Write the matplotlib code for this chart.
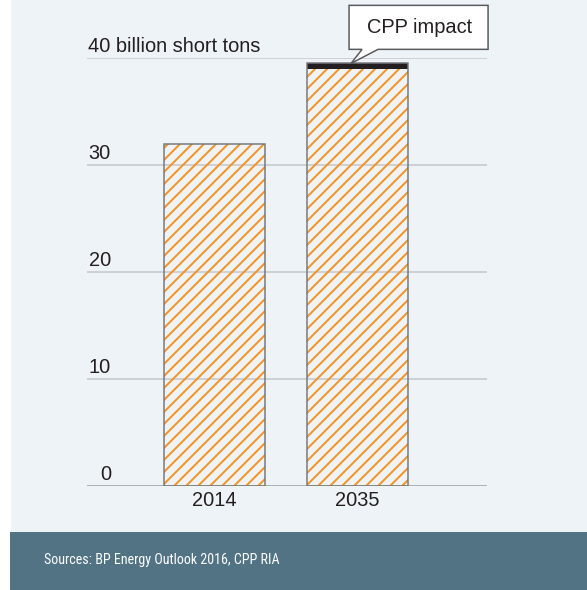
import matplotlib
matplotlib.use("Agg")
import matplotlib.pyplot as plt
from matplotlib.patches import Rectangle, Polygon
from matplotlib import font_manager
import matplotlib.transforms as mtransforms

# Data
years = ["2014", "2035"]
emissions = [32.0, 39.0]          # billion short tons
cpp_impact = [0.0, 0.5]           # extra slice on top of 2035
tick_values = [0, 10, 20, 30, 40]
tick_labels = ["0", "10", "20", "30", "40 billion short tons"]
callout_text = "CPP impact"
source_text = "Sources: BP Energy Outlook 2016, CPP RIA"

DPI = 72
W, H = 587, 590

plt.rcParams["font.family"] = ["Liberation Sans", "DejaVu Sans"]
plt.rcParams["hatch.linewidth"] = 2.0

# pick a narrow face for the footer if one is installed
fonts = font_manager.fontManager.ttflist
narrow_fam, narrow_stretch, narrow_size = "Liberation Sans", "normal", 11.8
for f in fonts:
    if f.name in ("Liberation Sans Narrow", "Arial Narrow", "Roboto Condensed",
                  "Open Sans Condensed"):
        narrow_fam, narrow_stretch, narrow_size = f.name, "normal", 14
        break
else:
    for f in fonts:
        if f.name == "DejaVu Sans" and str(f.stretch) in ("condensed", "semi-condensed"):
            narrow_fam, narrow_stretch, narrow_size = "DejaVu Sans", "condensed", 12
            break

bg = "#eef3f8"
orange = "#f7941d"
text_col = "#231f20"
grid_col = "#c3c7cb"

fig = plt.figure(figsize=(W / DPI, H / DPI), dpi=DPI)
fig.patch.set_facecolor("white")
# panel background and footer band
fig.patches.append(Rectangle((11 / W, 0), 1, 1, transform=fig.transFigure,
                             facecolor=bg, edgecolor="none", zorder=-10))
fig.patches.append(Rectangle((10 / W, 0), 1, 58 / H, transform=fig.transFigure,
                             facecolor="#517384", edgecolor="none", zorder=-9))
fig.text(44 / W, (H - 560) / H, source_text, color="white",
         fontsize=narrow_size, family=[narrow_fam, "DejaVu Sans"],
         fontstretch=narrow_stretch, ha="left", va="center")

ax_left, ax_right = 87, 487
ax_top, ax_bottom = 58, 486
ax = fig.add_axes([ax_left / W, (H - ax_bottom) / H,
                   (ax_right - ax_left) / W, (ax_bottom - ax_top) / H])
ax.set_facecolor("none")
for s in ax.spines.values():
    s.set_visible(False)

x = list(range(len(years)))
bar_w = 0.706
ax.set_xlim(-0.8916, 1.9056)
ax.set_ylim(0, 40)

# gridlines
for v in tick_values:
    ax.axhline(v, color="#9a9da0" if v == 0 else grid_col, lw=1.5, zorder=1)

# hatched bars
ax.bar(x, emissions, width=bar_w, facecolor="none", edgecolor=orange,
       hatch="//", linewidth=0, zorder=2)
ax.bar(x, cpp_impact, width=bar_w, bottom=emissions, color="#231f20",
       linewidth=0, zorder=3)
tops = [e + c for e, c in zip(emissions, cpp_impact)]
ax.bar(x, tops, width=bar_w, facecolor="none", edgecolor="#76787b",
       linewidth=1.5, zorder=4)

# y labels sitting above gridlines
ytr = mtransforms.blended_transform_factory(ax.transAxes, ax.transData)
for v, lab in zip(tick_values, tick_labels):
    if v == tick_values[-1]:
        ax.annotate(lab, xy=(0, v), xycoords=ytr, xytext=(1, 6),
                    textcoords="offset points", ha="left", va="baseline",
                    fontsize=20, color=text_col)
    else:
        ax.annotate(lab, xy=(0, v), xycoords=ytr, xytext=(24, 6),
                    textcoords="offset points", ha="right", va="baseline",
                    fontsize=20, color=text_col)
ax.set_yticks([])

ax.set_xticks(x)
ax.set_xticklabels(years, fontsize=20, color=text_col)
ax.tick_params(axis="x", length=0, pad=5)

# callout pointing at the CPP slice
fig.canvas.draw()
ax_px, ay_px = ax.transData.transform((x[1] - 0.045, tops[1]))
off = [(-2, 14), (11, 14), (0, 0), (27, 14), (137, 14), (137, 58), (-2, 58)]
pts = [(ax_px + dx, ay_px + dy) for dx, dy in off]
fig.patches.append(Polygon(pts, closed=True, transform=None,
                           facecolor="white", edgecolor="#58595b",
                           linewidth=1.5, zorder=10))
fig.text((ax_px + 68) / W, (ay_px + 36) / H, callout_text, fontsize=20,
         color=text_col, ha="center", va="center", zorder=11)

fig.savefig("out.png", dpi=DPI, facecolor=fig.get_facecolor())
